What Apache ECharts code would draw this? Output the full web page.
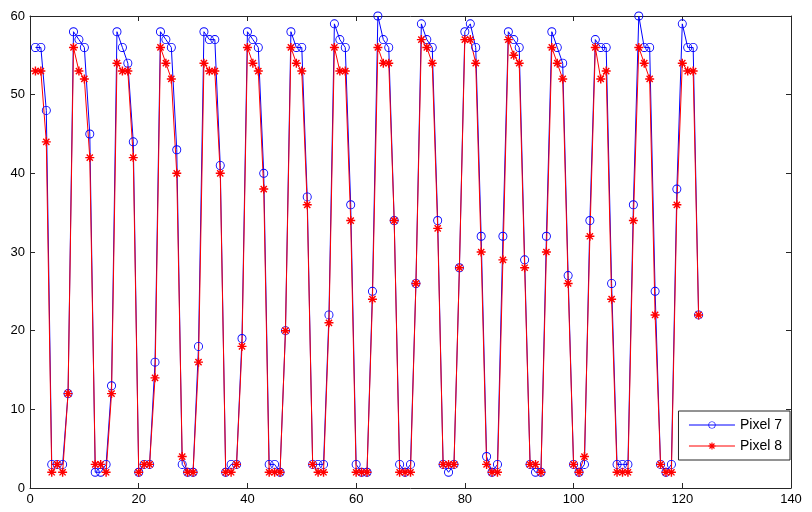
<!DOCTYPE html>
<html><head><meta charset="utf-8">
<script src="https://cdn.jsdelivr.net/npm/echarts@6/dist/echarts.min.js"></script>
<style>html,body{margin:0;padding:0;background:#fff}#c{width:812px;height:512px}</style>
</head><body><div id="c"></div>
<script>
const pixel7 = [56,56,48,3,3,3,12,
 58,57,56,45,2,2,3,13,
 58,56,54,44,2,3,3,16,
 58,57,56,43,3,2,2,18,
 58,57,57,41,2,3,3,19,
 58,57,56,40,3,3,2,20,
 58,56,56,37,3,3,3,22,
 59,57,56,36,3,2,2,25,
 60,57,56,34,3,2,3,26,
 59,57,56,34,3,2,3,28,
 58,59,56,32,4,2,3,32,
 58,57,56,29,3,2,2,32,
 58,56,54,27,3,2,3,34,
 57,56,56,26,3,3,3,36,
 60,56,56,25,3,2,3,38,
 59,56,56,22];
const pixel8 = [53,53,44,2,3,2,12,
 56,53,52,42,3,3,2,12,
 54,53,53,42,2,3,3,14,
 56,54,52,40,4,2,2,16,
 54,53,53,40,2,2,3,18,
 56,54,53,38,2,2,2,20,
 56,54,53,36,3,2,2,21,
 56,53,53,34,2,2,2,24,
 56,54,54,34,2,2,2,26,
 57,56,54,33,3,3,3,28,
 57,57,54,30,3,2,2,29,
 57,55,54,28,3,3,2,30,
 56,54,52,26,3,2,4,32,
 56,52,53,24,2,2,2,34,
 56,54,52,22,3,2,2,36,
 54,53,53,22];
const seriesNames = ['Pixel 7','Pixel 8'];
const xTicks = [0,20,40,60,80,100,120,140];
const yTicks = [0,10,20,30,40,50,60];

const star = 'path://M0 4.2L10 4.2L10 5.8L0 5.8Z M4.2 0L5.8 0L5.8 10L4.2 10Z M1.0 2.1L2.1 1.0L9.0 7.9L7.9 9.0Z M7.9 1.0L9.0 2.1L2.1 9.0L1.0 7.9Z';
const ring = 'path://M0 5A5 5 0 1 0 10 5A5 5 0 1 0 0 5Z M1 5A4 4 0 1 1 9 5A4 4 0 1 1 1 5Z';
const toPairs = a => a.map((v,i)=>[i+1,v]);
const font = 'Liberation Sans, Arial, sans-serif';
const axisCol = '#262626';

const chart = echarts.init(document.getElementById('c'), null, {renderer:'canvas'});
const baseX = {type:'value', min:xTicks[0], max:xTicks[xTicks.length-1], interval:20,
  axisLine:{show:true,onZero:false,lineStyle:{color:axisCol,width:1}},
  axisTick:{show:true,inside:true,length:5,lineStyle:{color:axisCol}},
  splitLine:{show:false}};
const baseY = {type:'value', min:yTicks[0], max:yTicks[yTicks.length-1], interval:10,
  axisLine:{show:true,onZero:false,lineStyle:{color:axisCol,width:1}},
  axisTick:{show:true,inside:true,length:5,lineStyle:{color:axisCol}},
  splitLine:{show:false}};
chart.setOption({
  animation:false,
  backgroundColor:'#fff',
  grid:{left:30,right:21,top:16,bottom:24,containLabel:false},
  xAxis:[
    Object.assign({}, baseX, {position:'bottom', axisLabel:{color:'#000',fontSize:13,fontFamily:font,margin:5}}),
    Object.assign({}, baseX, {position:'top', axisLabel:{show:false}})
  ],
  yAxis:[
    Object.assign({}, baseY, {position:'left', axisLabel:{color:'#000',fontSize:13,fontFamily:font,margin:5}}),
    Object.assign({}, baseY, {position:'right', axisLabel:{show:false}})
  ],
  legend:{
    orient:'vertical', right:22, top:411,
    backgroundColor:'#fff', borderColor:axisCol, borderWidth:1, borderRadius:0,
    padding:[7,8,7,10], itemGap:7, itemWidth:46, itemHeight:9,
    lineStyle:{width:1},
    textStyle:{fontSize:14,fontFamily:font,color:'#000'},
    data:seriesNames
  },
  series:[
    {name:seriesNames[0], type:'line', data:toPairs(pixel7),
     symbol:ring, symbolSize:9, showAllSymbol:true,
     lineStyle:{color:'#0000ff',width:1}, itemStyle:{color:'#0000ff',borderWidth:0}},
    {name:seriesNames[1], type:'line', data:toPairs(pixel8),
     symbol:star, symbolSize:9, showAllSymbol:true,
     lineStyle:{color:'#ff0000',width:1}, itemStyle:{color:'#ff0000'}}
  ]
});
</script></body></html>
